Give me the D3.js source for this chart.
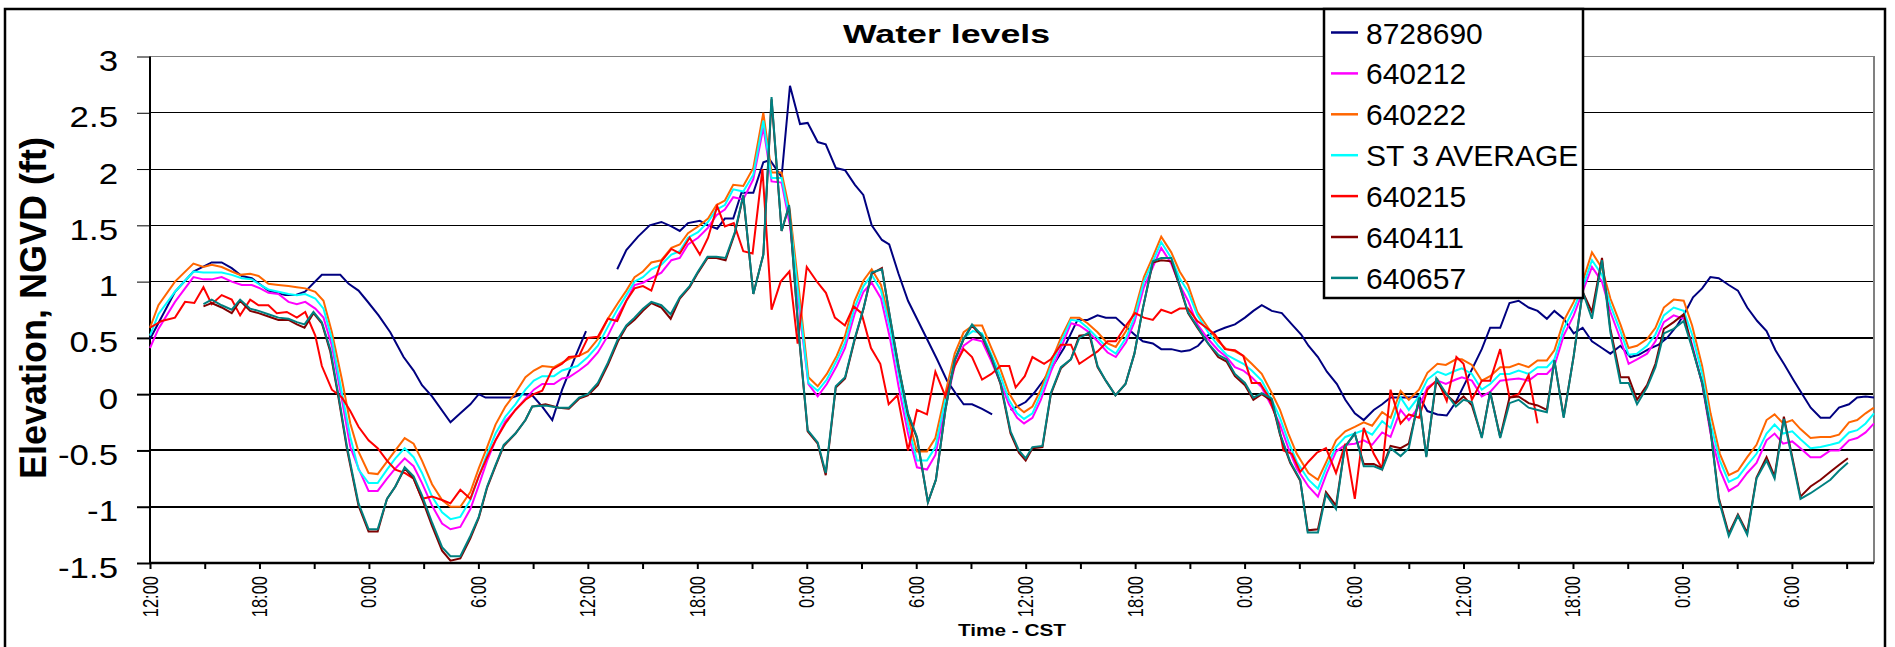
<!DOCTYPE html>
<html>
<head>
<meta charset="utf-8">
<script src="https://cdn.jsdelivr.net/npm/d3@7/dist/d3.min.js"></script>
<style>
  body { margin: 0; background: #fff; }
  text { font-family: "Liberation Sans", Arial, sans-serif; }
</style>
</head>
<body>
<div id="chart"></div>
<script>
// hours after 12:00 on the first day, elevation in ft (null = gap)
var s8728690 = [[0,0.49],[1.37,0.91],[2.38,1.09],[3.38,1.17],[3.93,1.17],[4.48,1.12],[5.03,1.05],[5.58,1.03],[6.49,0.92],[7.41,0.88],[7.96,0.88],[8.5,0.91],[9.42,1.06],[10.43,1.06],[10.89,0.98],[11.43,0.92],[11.89,0.83],[12.53,0.70],[13.17,0.55],[13.9,0.33],[14.45,0.21],[14.91,0.08],[15.46,-0.02],[16.47,-0.25],[17.01,-0.17],[17.56,-0.09],[18.02,0],[18.39,-0.03],[19.85,-0.03],[20.4,0],[20.95,-0.01],[21.5,-0.11],[22.05,-0.23],[22.59,0.04],[23.33,0.34],[23.9,0.56],[24.5,null],
  [25.61,1.11],[26.11,1.28],[26.75,1.40],[27.39,1.50],[28.03,1.53],[28.58,1.49],[29.04,1.45],[29.49,1.52],[30.14,1.54],[30.59,1.50],[31.09,1.47],[31.51,1.56],[31.97,1.56],[32.42,1.79],[33.07,1.79],[33.62,2.06],[33.98,2.08],[34.62,1.93],[35.08,2.74],[35.63,2.40],[36.05,2.41],[36.6,2.24],[37.04,2.22],[37.59,2.01],[38.1,1.99],[38.64,1.86],[39.1,1.77],[39.56,1.50],[40.12,1.37],[40.52,1.33],[41.03,1.07],[41.55,0.83],[42.04,0.67],[42.59,0.49],[43.14,0.31],[43.69,0.12],[44.15,0.01],[44.6,-0.09],[45.06,-0.09],[45.61,-0.13],[46.16,-0.18],[46.6,null],
  [47.17,-0.14],[48.0,-0.07],[48.46,0.01],[49.01,0.13],[49.56,0.27],[50.1,0.41],[50.84,0.66],[51.39,0.66],[51.94,0.70],[52.39,0.68],[52.94,0.68],[53.41,0.61],[53.96,0.53],[54.42,0.47],[54.97,0.45],[55.43,0.40],[55.98,0.40],[56.53,0.38],[56.99,0.39],[57.45,0.43],[57.96,0.52],[58.46,0.56],[58.92,0.59],[59.47,0.62],[60.02,0.68],[60.48,0.74],[60.94,0.79],[61.49,0.74],[62.04,0.72],[62.59,0.62],[63.1,0.53],[63.5,0.43],[64.02,0.33],[64.51,0.20],[65.06,0.09],[65.52,-0.05],[66.04,-0.17],[66.53,-0.23],[67.08,-0.14],[67.54,-0.09],[68.0,-0.03],[68.55,-0.03],[69.0,-0.03],[69.56,-0.02],[70.02,-0.15],[70.57,-0.18],[71.08,-0.19],[71.58,-0.07],[71.91,0.04],[72.46,0.22],[73.0,0.40],[73.46,0.59],[74.01,0.59],[74.52,0.81],[75.02,0.83],[75.57,0.77],[76.06,0.74],[76.57,0.67],[76.98,0.74],[77.49,0.67],[78.04,0.54],[78.53,0.59],[79.04,0.47],[79.59,0.41],[80.05,0.36],[80.6,0.43],[81.15,0.33],[81.6,0.35],[82.15,0.40],[82.7,0.44],[83.16,0.50],[83.71,0.61],[84.16,0.73],[84.58,0.86],[85.08,0.94],[85.53,1.04],[85.99,1.03],[86.54,0.97],[87.04,0.92],[87.55,0.77],[88.1,0.65],[88.61,0.56],[89.1,0.39],[89.56,0.27],[90.11,0.12],[90.57,0],[91.03,-0.12],[91.57,-0.21],[92.08,-0.21],[92.58,-0.12],[93.13,-0.09],[93.58,-0.03],[94.04,-0.02],[94.5,-0.03]];

var s640212 = [[0,0.41],[0.46,0.58],[1.37,0.82],[2.38,1.04],[2.93,1.02],[3.38,1.02],[3.93,1.04],[4.48,1.0],[5.03,0.97],[5.58,0.97],[6.04,0.94],[6.49,0.90],[7.04,0.89],[7.59,0.82],[8.05,0.80],[8.51,0.82],[9.06,0.76],[9.51,0.68],[9.97,0.43],[10.52,-0.05],[10.98,-0.47],[11.43,-0.66],[11.98,-0.86],[12.48,-0.86],[12.99,-0.75],[13.45,-0.66],[13.96,-0.57],[14.45,-0.64],[14.91,-0.79],[15.46,-0.99],[16.01,-1.15],[16.47,-1.20],[17.01,-1.18],[17.56,-1.02],[18.02,-0.81],[18.48,-0.59],[18.94,-0.41],[19.48,-0.24],[20.03,-0.14],[20.58,-0.04],[21.04,0.04],[21.5,0.09],[22.14,0.09],[22.59,0.14],[22.96,0.15],[23.52,0.21],
  [24,0.27],[24.55,0.37],[25.1,0.52],[25.65,0.70],[26.11,0.83],[26.56,0.97],[27.02,0.99],[27.48,1.03],[28.03,1.08],[28.58,1.19],[29.04,1.21],[29.49,1.33],[30.04,1.39],[30.59,1.48],[31.05,1.59],[31.51,1.64],[31.97,1.75],[32.52,1.73],[33.07,1.91],[33.62,2.37],[34.07,1.89],[34.62,1.88],[35.08,1.50],[35.54,0.82],[36.09,0.09],[36.6,-0.02],[37.1,0.09],[37.64,0.25],[38.1,0.41],[38.62,0.71],[39.11,0.91],[39.56,0.99],[40.07,0.85],[40.57,0.49],[41.03,0.07],[41.55,-0.35],[42.04,-0.65],[42.59,-0.67],[43.05,-0.54],[43.6,-0.11],[44.11,0.25],[44.6,0.43],[45.1,0.49],[45.61,0.47],[46.07,0.31],[46.62,0.10],[47.08,-0.09],[47.53,-0.21],
  [47.91,-0.26],[48.37,-0.21],[48.83,-0.05],[49.38,0.20],[49.93,0.41],[50.48,0.63],[50.94,0.61],[51.39,0.56],[51.94,0.47],[52.49,0.37],[52.94,0.33],[53.5,0.46],[53.96,0.64],[54.48,0.95],[54.97,1.13],[55.43,1.30],[55.98,1.16],[56.44,0.97],[56.9,0.83],[57.41,0.62],[58.0,0.49],[58.55,0.39],[59.01,0.33],[59.47,0.24],[59.93,0.21],[60.39,0.15],[60.94,0.06],[61.49,-0.11],[61.94,-0.27],[62.4,-0.48],[62.86,-0.66],[63.5,-0.82],[64.02,-0.91],[64.51,-0.70],[65.01,-0.51],[65.52,-0.45],[66.04,-0.44],[66.53,-0.41],[66.99,-0.45],[67.54,-0.34],[68.0,-0.38],[68.55,-0.14],[69.0,-0.23],[69.56,-0.11],[70.02,0.06],[70.57,0.12],[71.03,0.09],[71.58,0.13],
  [71.91,0.15],[72.46,0.12],[73.0,-0.02],[73.46,0.02],[74.01,0.12],[74.52,0.13],[75.02,0.14],[75.57,0.12],[76.06,0.18],[76.57,0.18],[76.98,0.25],[77.49,0.52],[78.04,0.70],[78.53,0.91],[79.04,1.13],[79.59,1.0],[80.05,0.73],[80.6,0.49],[81.05,0.27],[81.51,0.31],[82.06,0.36],[82.52,0.47],[82.98,0.64],[83.52,0.70],[84.07,0.67],[84.53,0.44],[85.08,0.09],[85.54,-0.35],[86.05,-0.67],[86.54,-0.86],[87.04,-0.81],[87.55,-0.70],[88.06,-0.61],[88.61,-0.41],[89.05,-0.35],[89.52,-0.44],[90.02,-0.42],[90.47,-0.48],[91.02,-0.56],[91.57,-0.56],[92.11,-0.50],[92.58,-0.50],[93.13,-0.41],[93.58,-0.39],[94.04,-0.34],[94.5,-0.26]];

var s640222 = [[0,0.59],[0.46,0.79],[1.37,1.0],[2.38,1.16],[2.93,1.13],[3.38,1.15],[3.93,1.13],[4.48,1.09],[4.94,1.06],[5.49,1.07],[5.95,1.05],[6.49,0.98],[7.04,0.97],[7.59,0.96],[8.05,0.95],[8.51,0.94],[9.06,0.91],[9.51,0.83],[9.97,0.55],[10.52,0.13],[10.98,-0.26],[11.43,-0.51],[11.98,-0.70],[12.48,-0.71],[12.99,-0.60],[13.45,-0.50],[13.96,-0.39],[14.45,-0.44],[14.91,-0.59],[15.46,-0.80],[16.01,-0.94],[16.47,-1.0],[17.01,-1.0],[17.56,-0.87],[18.02,-0.66],[18.48,-0.47],[18.94,-0.27],[19.48,-0.11],[20.03,0.01],[20.58,0.15],[21.04,0.21],[21.5,0.25],[22.14,0.24],[22.59,0.28],[23.06,0.32],[23.52,0.34],
  [24,0.38],[24.55,0.49],[25.1,0.67],[25.65,0.81],[26.11,0.92],[26.56,1.04],[27.02,1.09],[27.48,1.17],[28.03,1.19],[28.58,1.30],[29.04,1.33],[29.49,1.43],[30.04,1.49],[30.59,1.56],[31.05,1.68],[31.51,1.72],[31.97,1.86],[32.52,1.85],[33.07,2.01],[33.62,2.50],[34.07,1.97],[34.62,1.97],[35.08,1.62],[35.54,0.97],[36.09,0.15],[36.6,0.07],[37.1,0.18],[37.64,0.34],[38.1,0.52],[38.62,0.83],[39.11,1.01],[39.56,1.11],[40.07,0.97],[40.57,0.64],[41.03,0.25],[41.55,-0.20],[42.04,-0.51],[42.59,-0.51],[43.05,-0.39],[43.6,0.01],[44.11,0.36],[44.6,0.55],[45.1,0.61],[45.61,0.61],[46.07,0.43],[46.62,0.22],[47.08,0.01],[47.53,-0.11],
  [47.91,-0.16],[48.37,-0.11],[48.83,0.04],[49.38,0.28],[49.93,0.50],[50.48,0.68],[50.94,0.68],[51.39,0.63],[51.94,0.55],[52.49,0.45],[52.94,0.42],[53.5,0.56],[53.96,0.73],[54.48,1.04],[54.97,1.22],[55.43,1.40],[55.98,1.26],[56.44,1.09],[56.9,0.97],[57.41,0.73],[58.0,0.59],[58.55,0.47],[59.01,0.40],[59.47,0.38],[59.93,0.34],[60.39,0.27],[60.94,0.18],[61.49,0.01],[61.94,-0.14],[62.4,-0.35],[62.86,-0.53],[63.5,-0.70],[64.02,-0.76],[64.51,-0.59],[65.01,-0.41],[65.52,-0.33],[66.04,-0.29],[66.53,-0.25],[66.99,-0.28],[67.54,-0.16],[68.0,-0.21],[68.55,0.03],[69.0,-0.05],[69.56,0.04],[70.02,0.19],[70.57,0.27],[71.03,0.26],[71.58,0.31],
  [71.91,0.31],[72.46,0.26],[73.0,0.12],[73.46,0.16],[74.01,0.24],[74.52,0.24],[75.02,0.27],[75.57,0.24],[76.06,0.30],[76.57,0.30],[76.98,0.39],[77.49,0.65],[78.04,0.82],[78.53,1.0],[79.04,1.26],[79.59,1.12],[80.05,0.85],[80.6,0.62],[81.05,0.41],[81.51,0.43],[82.06,0.49],[82.52,0.59],[82.98,0.77],[83.52,0.84],[84.07,0.83],[84.53,0.61],[85.08,0.25],[85.54,-0.17],[86.05,-0.53],[86.54,-0.72],[87.04,-0.68],[87.55,-0.56],[88.06,-0.45],[88.61,-0.23],[89.05,-0.18],[89.52,-0.26],[90.02,-0.23],[90.47,-0.31],[91.02,-0.39],[91.57,-0.38],[92.11,-0.38],[92.58,-0.36],[93.13,-0.25],[93.58,-0.23],[94.04,-0.17],[94.5,-0.12]];

var sAverage = [[0,0.52],[0.46,0.71],[1.37,0.91],[2.38,1.09],[2.93,1.08],[3.93,1.08],[4.48,1.06],[5.03,1.03],[5.58,1.02],[6.04,0.97],[6.49,0.93],[7.04,0.91],[7.59,0.89],[8.05,0.88],[8.51,0.89],[9.06,0.85],[9.51,0.76],[9.97,0.49],[10.52,0.01],[10.98,-0.38],[11.43,-0.67],[11.98,-0.79],[12.48,-0.79],[12.99,-0.67],[13.45,-0.57],[13.96,-0.48],[14.45,-0.56],[14.91,-0.70],[15.46,-0.91],[16.01,-1.05],[16.47,-1.11],[17.01,-1.09],[17.56,-0.94],[18.02,-0.73],[18.48,-0.53],[18.94,-0.35],[19.48,-0.20],[20.03,-0.09],[20.58,0.04],[21.04,0.12],[21.5,0.16],[22.14,0.16],[22.59,0.21],[23.43,0.25],
  [24,0.33],[24.55,0.43],[25.1,0.60],[25.65,0.76],[26.11,0.88],[26.56,1.0],[27.02,1.04],[27.48,1.11],[28.03,1.15],[28.58,1.24],[29.04,1.27],[29.49,1.39],[30.04,1.44],[30.59,1.53],[31.05,1.64],[31.51,1.68],[31.97,1.82],[32.52,1.80],[33.07,1.95],[33.62,2.43],[34.07,1.92],[34.62,1.92],[35.08,1.56],[35.54,0.88],[36.09,0.10],[36.6,0.03],[37.1,0.13],[37.64,0.30],[38.1,0.46],[38.62,0.77],[39.11,0.96],[39.56,1.06],[40.07,0.92],[40.57,0.58],[41.03,0.18],[41.55,-0.27],[42.04,-0.59],[42.59,-0.59],[43.05,-0.47],[43.6,-0.05],[44.11,0.30],[44.6,0.50],[45.1,0.56],[45.61,0.54],[46.07,0.37],[46.62,0.16],[47.08,-0.05],[47.53,-0.17],
  [47.91,-0.22],[48.37,-0.17],[48.83,0],[49.38,0.24],[49.93,0.46],[50.48,0.66],[50.94,0.65],[51.39,0.59],[51.94,0.50],[52.49,0.41],[52.94,0.36],[53.5,0.50],[53.96,0.68],[54.48,1.0],[54.97,1.18],[55.43,1.35],[55.98,1.21],[56.44,1.03],[56.9,0.91],[57.41,0.70],[58.0,0.55],[58.55,0.43],[59.01,0.35],[59.47,0.31],[59.93,0.27],[60.39,0.21],[60.94,0.12],[61.49,-0.05],[61.94,-0.21],[62.4,-0.42],[62.86,-0.60],[63.5,-0.76],[64.02,-0.84],[64.51,-0.64],[65.01,-0.47],[65.52,-0.38],[66.04,-0.35],[66.53,-0.32],[66.99,-0.36],[67.54,-0.24],[68.0,-0.30],[68.55,-0.03],[69.0,-0.14],[69.56,-0.02],[70.02,0.13],[70.57,0.20],[71.03,0.17],[71.58,0.21],
  [71.91,0.23],[72.46,0.18],[73.0,0.04],[73.46,0.09],[74.01,0.18],[74.52,0.18],[75.02,0.21],[75.57,0.18],[76.06,0.24],[76.57,0.24],[76.98,0.31],[77.49,0.58],[78.04,0.76],[78.53,0.95],[79.04,1.19],[79.59,1.06],[80.05,0.79],[80.6,0.56],[81.05,0.35],[81.51,0.36],[82.06,0.43],[82.52,0.53],[82.98,0.70],[83.52,0.77],[84.07,0.74],[84.53,0.53],[85.08,0.18],[85.54,-0.26],[86.05,-0.59],[86.54,-0.78],[87.04,-0.74],[87.55,-0.63],[88.06,-0.53],[88.61,-0.35],[89.05,-0.27],[89.52,-0.35],[90.02,-0.33],[90.47,-0.40],[91.02,-0.48],[91.57,-0.47],[92.11,-0.45],[92.58,-0.43],[93.13,-0.34],[93.58,-0.32],[94.04,-0.26],[94.5,-0.17]];

var s640215 = [[0,0.59],[0.64,0.65],[1.37,0.68],[1.92,0.82],[2.43,0.81],[2.93,0.95],[3.38,0.80],[3.93,0.88],[4.48,0.84],[4.94,0.70],[5.49,0.84],[5.95,0.79],[6.49,0.79],[6.95,0.72],[7.5,0.73],[8.05,0.68],[8.51,0.73],[9.06,0.52],[9.42,0.25],[9.97,0.04],[10.52,-0.03],[10.98,-0.15],[11.43,-0.29],[11.98,-0.41],[12.48,-0.48],[12.99,-0.59],[13.45,-0.67],[13.96,-0.70],[14.45,-0.75],[14.91,-0.93],[15.46,-0.91],[16.01,-0.94],[16.47,-0.97],[17.01,-0.85],[17.56,-0.93],[18.02,-0.73],[18.48,-0.56],[18.94,-0.41],[19.48,-0.26],[20.03,-0.14],[20.58,-0.05],[21.04,0],[21.5,0.03],[22.05,0.22],[22.59,0.27],[22.96,0.33],[23.52,0.34],
  [24,0.50],[24.55,0.51],[25.1,0.67],[25.61,0.65],[26.11,0.83],[26.56,0.94],[27.02,0.96],[27.48,0.92],[28.03,1.18],[28.58,1.29],[29.04,1.25],[29.58,1.39],[30.14,1.24],[30.59,1.39],[31.09,1.67],[31.51,1.49],[32.0,1.52],[32.52,1.27],[33.03,1.25],[33.57,2.0],[34.07,0.75],[34.57,1.0],[35.05,1.09],[35.5,0.45],[36.0,1.13],[36.6,0.99],[37.05,0.90],[37.54,0.68],[38.09,0.61],[38.57,0.78],[39.0,0.72],[39.52,0.41],[40.03,0.27],[40.49,-0.09],[40.97,-0.01],[41.55,-0.50],[42.04,-0.14],[42.59,-0.18],[43.05,0.20],[43.6,-0.02],[44.11,0.25],[44.6,0.40],[45.06,0.33],[45.61,0.13],[46.12,0.18],[46.62,0.25],[47.1,0.25],[47.45,0.06],
  [47.95,0.16],[48.37,0.33],[49.01,0.27],[49.38,0.31],[49.93,0.44],[50.48,0.44],[50.94,0.27],[51.49,0.33],[51.94,0.38],[52.49,0.47],[52.94,0.47],[53.5,0.61],[54.0,0.72],[54.48,0.68],[54.97,0.66],[55.43,0.75],[55.98,0.72],[56.44,0.76],[56.9,0.76],[57.41,0.65],[57.91,0.59],[58.37,0.53],[58.92,0.40],[59.47,0.39],[59.93,0.34],[60.39,0.10],[60.84,0.10],[61.3,-0.02],[61.85,-0.26],[62.13,-0.50],[62.59,-0.53],[63.05,-0.69],[63.5,-0.60],[63.96,-0.52],[64.46,-0.48],[65.01,-0.70],[65.52,-0.44],[66.04,-0.93],[66.53,-0.30],[67.08,-0.53],[67.54,-0.66],[68.0,0.04],[68.55,-0.26],[69.0,-0.18],[69.56,-0.21],[70.02,0.04],[70.57,0.13],[71.08,-0.06],[71.61,0.33],
  [72.0,0.27],[72.46,-0.05],[73.0,0.12],[73.46,0.12],[74.01,0.40],[74.52,-0.03],[75.02,0],[75.57,0.17],[76.06,-0.26]];

var s640411 = [[2.93,0.78],[3.38,0.81],[3.93,0.77],[4.48,0.72],[4.94,0.83],[5.49,0.74],[5.95,0.72],[6.49,0.69],[7.04,0.66],[7.59,0.66],[8.05,0.62],[8.47,0.59],[8.96,0.72],[9.42,0.63],[9.88,0.38],[10.34,-0.04],[10.8,-0.49],[11.43,-0.99],[11.98,-1.22],[12.48,-1.22],[12.99,-0.93],[13.45,-0.82],[13.96,-0.66],[14.45,-0.75],[14.91,-0.93],[15.46,-1.17],[16.01,-1.39],[16.47,-1.48],[17.01,-1.46],[17.56,-1.28],[18.02,-1.10],[18.48,-0.83],[18.94,-0.64],[19.39,-0.46],[20.03,-0.35],[20.58,-0.23],[20.95,-0.11],[21.68,-0.09],[22.41,-0.12],[22.96,-0.13],[23.52,-0.04],
  [24,-0.01],[24.55,0.08],[25.1,0.26],[25.65,0.47],[26.11,0.60],[26.56,0.66],[27.02,0.74],[27.48,0.81],[28.03,0.77],[28.54,0.67],[29.04,0.85],[29.58,0.95],[30.04,1.08],[30.56,1.21],[31.05,1.21],[31.55,1.19],[32.06,1.43],[32.52,1.76],[33.07,0.89],[33.62,1.24],[34.07,2.62],[34.62,1.45],[35.03,1.67],[35.54,0.57],[36.05,-0.33],[36.6,-0.44],[37.04,-0.72],[37.59,0.06],[38.1,0.14],[38.62,0.48],[39.11,0.76],[39.56,1.07],[40.12,1.12],[40.57,0.67],[41.03,0.24],[41.55,-0.18],[42.04,-0.39],[42.64,-0.96],[43.08,-0.76],[43.6,-0.14],[44.11,0.30],[44.6,0.49],[45.06,0.61],[45.61,0.51],[46.12,0.32],[46.62,0.09],[47.17,-0.35],[47.63,-0.52],
  [48.0,-0.59],[48.37,-0.48],[48.92,-0.47],[49.38,0],[49.93,0.23],[50.48,0.31],[50.94,0.52],[51.49,0.53],[51.94,0.24],[52.39,0.12],[52.92,-0.01],[53.47,0.09],[53.96,0.36],[54.42,0.76],[54.97,1.17],[55.43,1.19],[55.98,1.18],[56.44,0.96],[56.9,0.72],[57.41,0.59],[58.0,0.45],[58.55,0.33],[59.01,0.29],[59.47,0.16],[60.02,0.08],[60.48,-0.05],[60.94,0],[61.49,-0.06],[61.94,-0.36],[62.5,-0.61],[63.05,-0.77],[63.46,-1.21],[64.02,-1.20],[64.46,-0.87],[65.01,-0.99],[65.49,-0.47],[66.04,-0.35],[66.53,-0.62],[67.08,-0.62],[67.54,-0.66],[68.0,-0.46],[68.55,-0.48],[69.0,-0.44],[69.56,-0.05],[69.96,-0.55],[70.51,0.12],[71.03,0],[71.58,-0.08],
  [72.0,-0.02],[72.46,-0.10],[73.0,-0.38],[73.46,0.02],[74.01,-0.38],[74.52,-0.03],[75.02,-0.02],[75.57,-0.08],[76.06,-0.10],[76.57,-0.14],[76.98,0.30],[77.49,-0.20],[78.04,0.34],[78.53,0.91],[79.04,0.73],[79.59,1.21],[80.05,0.58],[80.6,0.15],[81.05,0.15],[81.51,-0.05],[82.06,0.08],[82.52,0.27],[82.98,0.58],[83.52,0.64],[84.07,0.71],[84.53,0.42],[85.08,0.10],[85.54,-0.32],[85.99,-0.92],[86.54,-1.24],[87.04,-1.07],[87.55,-1.23],[88.06,-0.74],[88.61,-0.56],[89.05,-0.73],[89.56,-0.20],[90.47,-0.91],[91.02,-0.82],[91.57,-0.76],[92.11,-0.69],[92.58,-0.63],[93.07,-0.57]];

var s640657 = [[2.93,0.80],[3.38,0.84],[3.93,0.79],[4.48,0.75],[4.94,0.84],[5.49,0.76],[5.95,0.74],[6.49,0.71],[7.04,0.68],[7.59,0.67],[8.05,0.64],[8.47,0.62],[8.96,0.73],[9.42,0.64],[9.88,0.40],[10.34,-0.02],[10.8,-0.47],[11.43,-0.97],[11.98,-1.20],[12.48,-1.20],[12.99,-0.93],[13.45,-0.82],[13.96,-0.65],[14.45,-0.73],[14.91,-0.90],[15.46,-1.14],[16.01,-1.36],[16.47,-1.44],[17.01,-1.44],[17.56,-1.26],[18.02,-1.09],[18.48,-0.82],[18.94,-0.63],[19.39,-0.45],[20.03,-0.35],[20.58,-0.23],[20.95,-0.11],[21.68,-0.10],[22.41,-0.12],[22.96,-0.12],[23.52,-0.03],
  [24,0],[24.55,0.10],[25.1,0.28],[25.65,0.49],[26.11,0.61],[26.56,0.68],[27.02,0.76],[27.48,0.82],[28.03,0.79],[28.54,0.71],[29.04,0.86],[29.58,0.96],[30.04,1.09],[30.56,1.22],[31.05,1.22],[31.55,1.21],[32.06,1.44],[32.52,1.77],[33.07,0.89],[33.62,1.24],[34.07,2.64],[34.62,1.45],[35.03,1.68],[35.54,0.58],[36.05,-0.32],[36.6,-0.43],[37.04,-0.70],[37.59,0.07],[38.1,0.15],[38.62,0.49],[39.11,0.76],[39.56,1.08],[40.12,1.11],[40.57,0.68],[41.03,0.25],[41.55,-0.17],[42.04,-0.38],[42.64,-0.96],[43.08,-0.76],[43.6,-0.14],[44.11,0.30],[44.6,0.49],[45.06,0.62],[45.61,0.52],[46.12,0.33],[46.62,0.10],[47.17,-0.33],[47.63,-0.50],
  [48.0,-0.57],[48.37,-0.47],[48.92,-0.46],[49.38,0.01],[49.93,0.24],[50.48,0.31],[50.94,0.50],[51.49,0.55],[51.94,0.25],[52.39,0.12],[52.92,-0.01],[53.47,0.09],[53.96,0.36],[54.42,0.76],[54.97,1.18],[55.43,1.21],[55.98,1.21],[56.44,0.97],[56.9,0.73],[57.41,0.60],[58.0,0.45],[58.55,0.35],[59.01,0.31],[59.47,0.18],[60.02,0.10],[60.48,-0.03],[60.94,0.01],[61.49,-0.04],[61.94,-0.35],[62.5,-0.60],[63.05,-0.76],[63.46,-1.23],[64.02,-1.23],[64.46,-0.89],[65.01,-1.02],[65.49,-0.47],[66.04,-0.35],[66.53,-0.64],[67.08,-0.64],[67.54,-0.67],[68.0,-0.48],[68.55,-0.55],[69.0,-0.48],[69.56,-0.03],[69.96,-0.56],[70.51,0.14],[71.03,0.01],[71.58,-0.11],
  [72.0,-0.05],[72.46,-0.07],[73.0,-0.39],[73.46,0.02],[74.01,-0.39],[74.52,-0.08],[75.02,-0.05],[75.57,-0.12],[76.06,-0.14],[76.57,-0.16],[76.98,0.30],[77.49,-0.21],[78.04,0.34],[78.53,0.91],[79.04,0.67],[79.59,1.19],[80.05,0.55],[80.6,0.10],[81.05,0.10],[81.51,-0.09],[82.06,0.06],[82.52,0.24],[82.98,0.54],[83.52,0.58],[84.07,0.65],[84.53,0.41],[85.08,0.10],[85.54,-0.32],[85.99,-0.94],[86.54,-1.26],[87.04,-1.08],[87.55,-1.25],[88.06,-0.75],[88.61,-0.59],[89.05,-0.75],[89.56,-0.22],[90.47,-0.93],[91.02,-0.88],[91.57,-0.82],[92.11,-0.76],[92.58,-0.68],[93.07,-0.61]];

var seriesNames = ["8728690", "640212", "640222", "ST 3 AVERAGE", "640215", "640411", "640657"];
var seriesData = [s8728690, s640212, s640222, sAverage, s640215, s640411, s640657];
var seriesColors = ["#000080", "#ff00ff", "#ff6600", "#00ffff", "#ff0000", "#800000", "#008080"];
var yTicks = [-1.5, -1, -0.5, 0, 0.5, 1, 1.5, 2, 2.5, 3];
var hourTicks = d3.range(0, 94, 3);
var hourLabels = ["12:00", "18:00", "0:00", "6:00"];

var W = 1895, H = 647;
var svg = d3.select("#chart").append("svg")
    .attr("width", W)
    .attr("height", H);

var x = d3.scaleLinear().domain([0, 94.5]).range([150, 1874]);
var y = d3.scaleLinear().domain([-1.5, 3]).range([563, 56.5]);

svg.append("rect")
    .attr("x", 5).attr("y", 9)
    .attr("width", 1880).attr("height", 680)
    .attr("fill", "#fff")
    .attr("stroke", "#000")
    .attr("stroke-width", 2.5);

// gridlines
svg.append("g").selectAll("line")
    .data(yTicks.filter(function(d){ return d > -1.5 && d < 3; }))
    .enter().append("line")
    .attr("x1", x(0)).attr("x2", x(94.5))
    .attr("y1", function(d){ return y(d); })
    .attr("y2", function(d){ return y(d); })
    .attr("stroke", "#000")
    .attr("stroke-width", function(d){ return d > 0.5 ? 1 : 2; })
    .attr("shape-rendering", "crispEdges");

// plot area border (top / right)
svg.append("path")
    .attr("d", "M" + x(0) + "," + y(3) + "H" + x(94.5) + "V" + y(-1.5))
    .attr("fill", "none")
    .attr("stroke", "#808080")
    .attr("stroke-width", 1.5)
    .attr("shape-rendering", "crispEdges");

// y axis
var yAxis = d3.axisLeft(y).tickValues(yTicks).tickSize(13)
    .tickFormat(function(d){ return String(d); });
var gy = svg.append("g")
    .attr("transform", "translate(" + x(0) + ",0)")
    .call(yAxis);
gy.select(".domain").attr("stroke-width", 2).attr("d", "M0," + y(3) + "V" + y(-1.5));
gy.selectAll(".tick line").attr("stroke-width", function(d){ return d > 0.5 ? 1 : 2; });
gy.selectAll(".tick text")
    .attr("x", -32)
    .attr("dy", null)
    .attr("y", 14)
    .attr("font-size", 29.5)
    .attr("font-family", "Liberation Sans, Arial, sans-serif")
    .attr("fill", "#000")
    .each(function(){
        var len = this.getComputedTextLength();
        d3.select(this).attr("textLength", len * 1.18).attr("lengthAdjust", "spacingAndGlyphs");
    });

// x axis
var xAxis = d3.axisBottom(x).tickValues(hourTicks).tickSize(6).tickFormat("");
var gx = svg.append("g")
    .attr("transform", "translate(0," + y(-1.5) + ")")
    .call(xAxis);
gx.select(".domain").attr("stroke-width", 2.5).attr("d", "M" + x(0) + ",0H" + x(94.5));
gx.selectAll(".tick line").attr("stroke-width", 2);

svg.append("g").selectAll("text")
    .data(hourTicks.filter(function(d){ return d % 6 === 0; }))
    .enter().append("text")
    .attr("transform", function(d){ return "translate(" + x(d) + ",576) rotate(-90) scale(1,1.3)"; })
    .attr("text-anchor", "end")
    .attr("dy", "0.35em")
    .attr("font-size", 16.5)
    .text(function(d){ return hourLabels[(d / 6) % 4]; });

// series
var line = d3.line()
    .defined(function(d){ return d[1] != null; })
    .x(function(d){ return x(d[0]); })
    .y(function(d){ return y(d[1]); });

svg.append("g").selectAll("path")
    .data(seriesData)
    .enter().append("path")
    .attr("d", line)
    .attr("fill", "none")
    .attr("stroke", function(d, i){ return seriesColors[i]; })
    .attr("stroke-width", 2)
    .attr("stroke-linejoin", "miter");

// titles
svg.append("text")
    .attr("x", 843).attr("y", 43)
    .attr("font-size", 25)
    .attr("font-weight", "bold")
    .attr("textLength", 207)
    .attr("lengthAdjust", "spacingAndGlyphs")
    .text("Water levels");

svg.append("text")
    .attr("transform", "translate(46,308) rotate(-90)")
    .attr("text-anchor", "middle")
    .attr("font-size", 36)
    .attr("font-weight", "bold")
    .text("Elevation, NGVD (ft)");

svg.append("text")
    .attr("x", (x(0) + x(94.5)) / 2).attr("y", 636)
    .attr("text-anchor", "middle")
    .attr("font-size", 16)
    .attr("font-weight", "bold")
    .attr("textLength", 108)
    .attr("lengthAdjust", "spacingAndGlyphs")
    .text("Time  - CST");

// legend
var legend = svg.append("g");
legend.append("rect")
    .attr("x", 1324).attr("y", 9)
    .attr("width", 259).attr("height", 289)
    .attr("fill", "#fff")
    .attr("stroke", "#000")
    .attr("stroke-width", 2.5);
var item = legend.selectAll("g.item")
    .data(seriesNames)
    .enter().append("g")
    .attr("class", "item")
    .attr("transform", function(d, i){ return "translate(0," + (32.5 + i * 40.9) + ")"; });
item.append("line")
    .attr("x1", 1331).attr("x2", 1358)
    .attr("stroke", function(d, i){ return seriesColors[i]; })
    .attr("stroke-width", 2.5);
item.append("text")
    .attr("x", 1366).attr("y", 11)
    .attr("font-size", 30)
    .text(function(d){ return d; });
</script>
</body>
</html>
